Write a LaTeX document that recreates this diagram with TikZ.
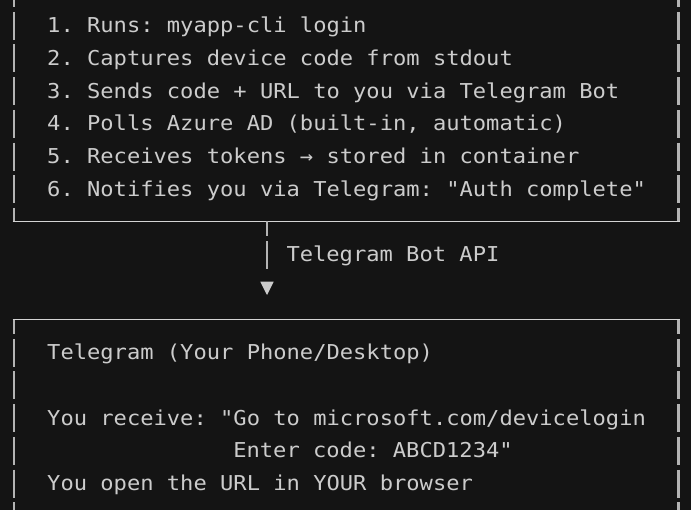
\documentclass[tikz,border=0pt]{standalone}
\usepackage{fontspec}
\newfontfamily\mono{DejaVu Sans Mono}[FakeStretch=1.078,Ligatures=TeXOff]
\definecolor{bg}{HTML}{141414}
\definecolor{fg}{HTML}{CCCCCC}
\definecolor{vline}{HTML}{B4B4B4}
\definecolor{hline}{HTML}{D4D4D4}
\frenchspacing
\begin{document}
\begin{tikzpicture}[x=1pt,y=-1pt,
  txt/.style={anchor=base west, inner sep=0pt, text=fg, font=\mono\fontsize{20.5}{24}\selectfont\frenchspacing},
  vseg/.style={draw=vline, line width=2.6pt},
  hseg/.style={draw=hline, line width=1.8pt},
  tipshape/.style={fill=fg}]
\fill[bg] (0,0) rectangle (691,510);
\useasboundingbox (0,0) rectangle (691,510);
% vertical border pieces (one per text row)
\foreach \n in {0,1,2,3,4,5,6,11,12,13,14,15,16}{
  \pgfmathsetmacro\c{25.3+32.7*(\n-1)}
  \draw[vseg] (14,{\c-13.5}) -- (14,{\c+14.5});
  \draw[vseg] (678.5,{\c-13.5}) -- (678.5,{\c+14.5});
}
% bottom of upper box
\coordinate (ul) at (14,221.5);
\coordinate (ur) at (678.5,221.5);
\draw[vseg] (14,208) -- (ul);
\draw[vseg] (678.5,208) -- (ur);
\draw[hseg] (12.7,221.5) -- (679.8,221.5);
% top of lower box
\coordinate (ll) at (14,319.6);
\coordinate (lr) at (678.5,319.6);
\draw[vseg] (ll) -- (14,334.1);
\draw[vseg] (lr) -- (678.5,334.1);
\draw[hseg] (12.7,319.6) -- (679.8,319.6);
% text rows
\node[txt] (l1) at (47,32.8) {1. Runs: myapp-cli login};
\node[txt] (l2) at (47,65.5) {2. Captures device code from stdout};
\node[txt] (l3) at (47,98.2) {3. Sends code + URL to you via Telegram Bot};
\node[txt] (l4) at (47,130.9) {4. Polls Azure AD (built-in, automatic)};
\node[txt] (l5) at (47,163.6) {5. Receives tokens → stored in container};
\node[txt] (l6) at (47,196.3) {6. Notifies you via Telegram: "Auth complete"};
\node[txt] (api) at (286.3,261.7) {Telegram Bot API};
\node[txt] (t1) at (47,359.8) {Telegram (Your Phone/Desktop)};
\node[txt] (t2) at (47,425.2) {You receive: "Go to microsoft.com/devicelogin};
\node[txt] (t3) at (233.1,457.9) {Enter code: ABCD1234"};
\node[txt] (t4) at (47,490.6) {You open the URL in YOUR browser};
% connector
\coordinate (tee) at (267,221.5);
\coordinate (tip) at (267,295);
\draw[vseg] (tee) -- ++(0,14.5);
\draw[vseg] (267,241.2) -- (267,268.7);
\fill[tipshape] (tip) -- ++(-6.7,-13.3) -- ++(13.4,0) -- cycle;
\end{tikzpicture}
\end{document}
